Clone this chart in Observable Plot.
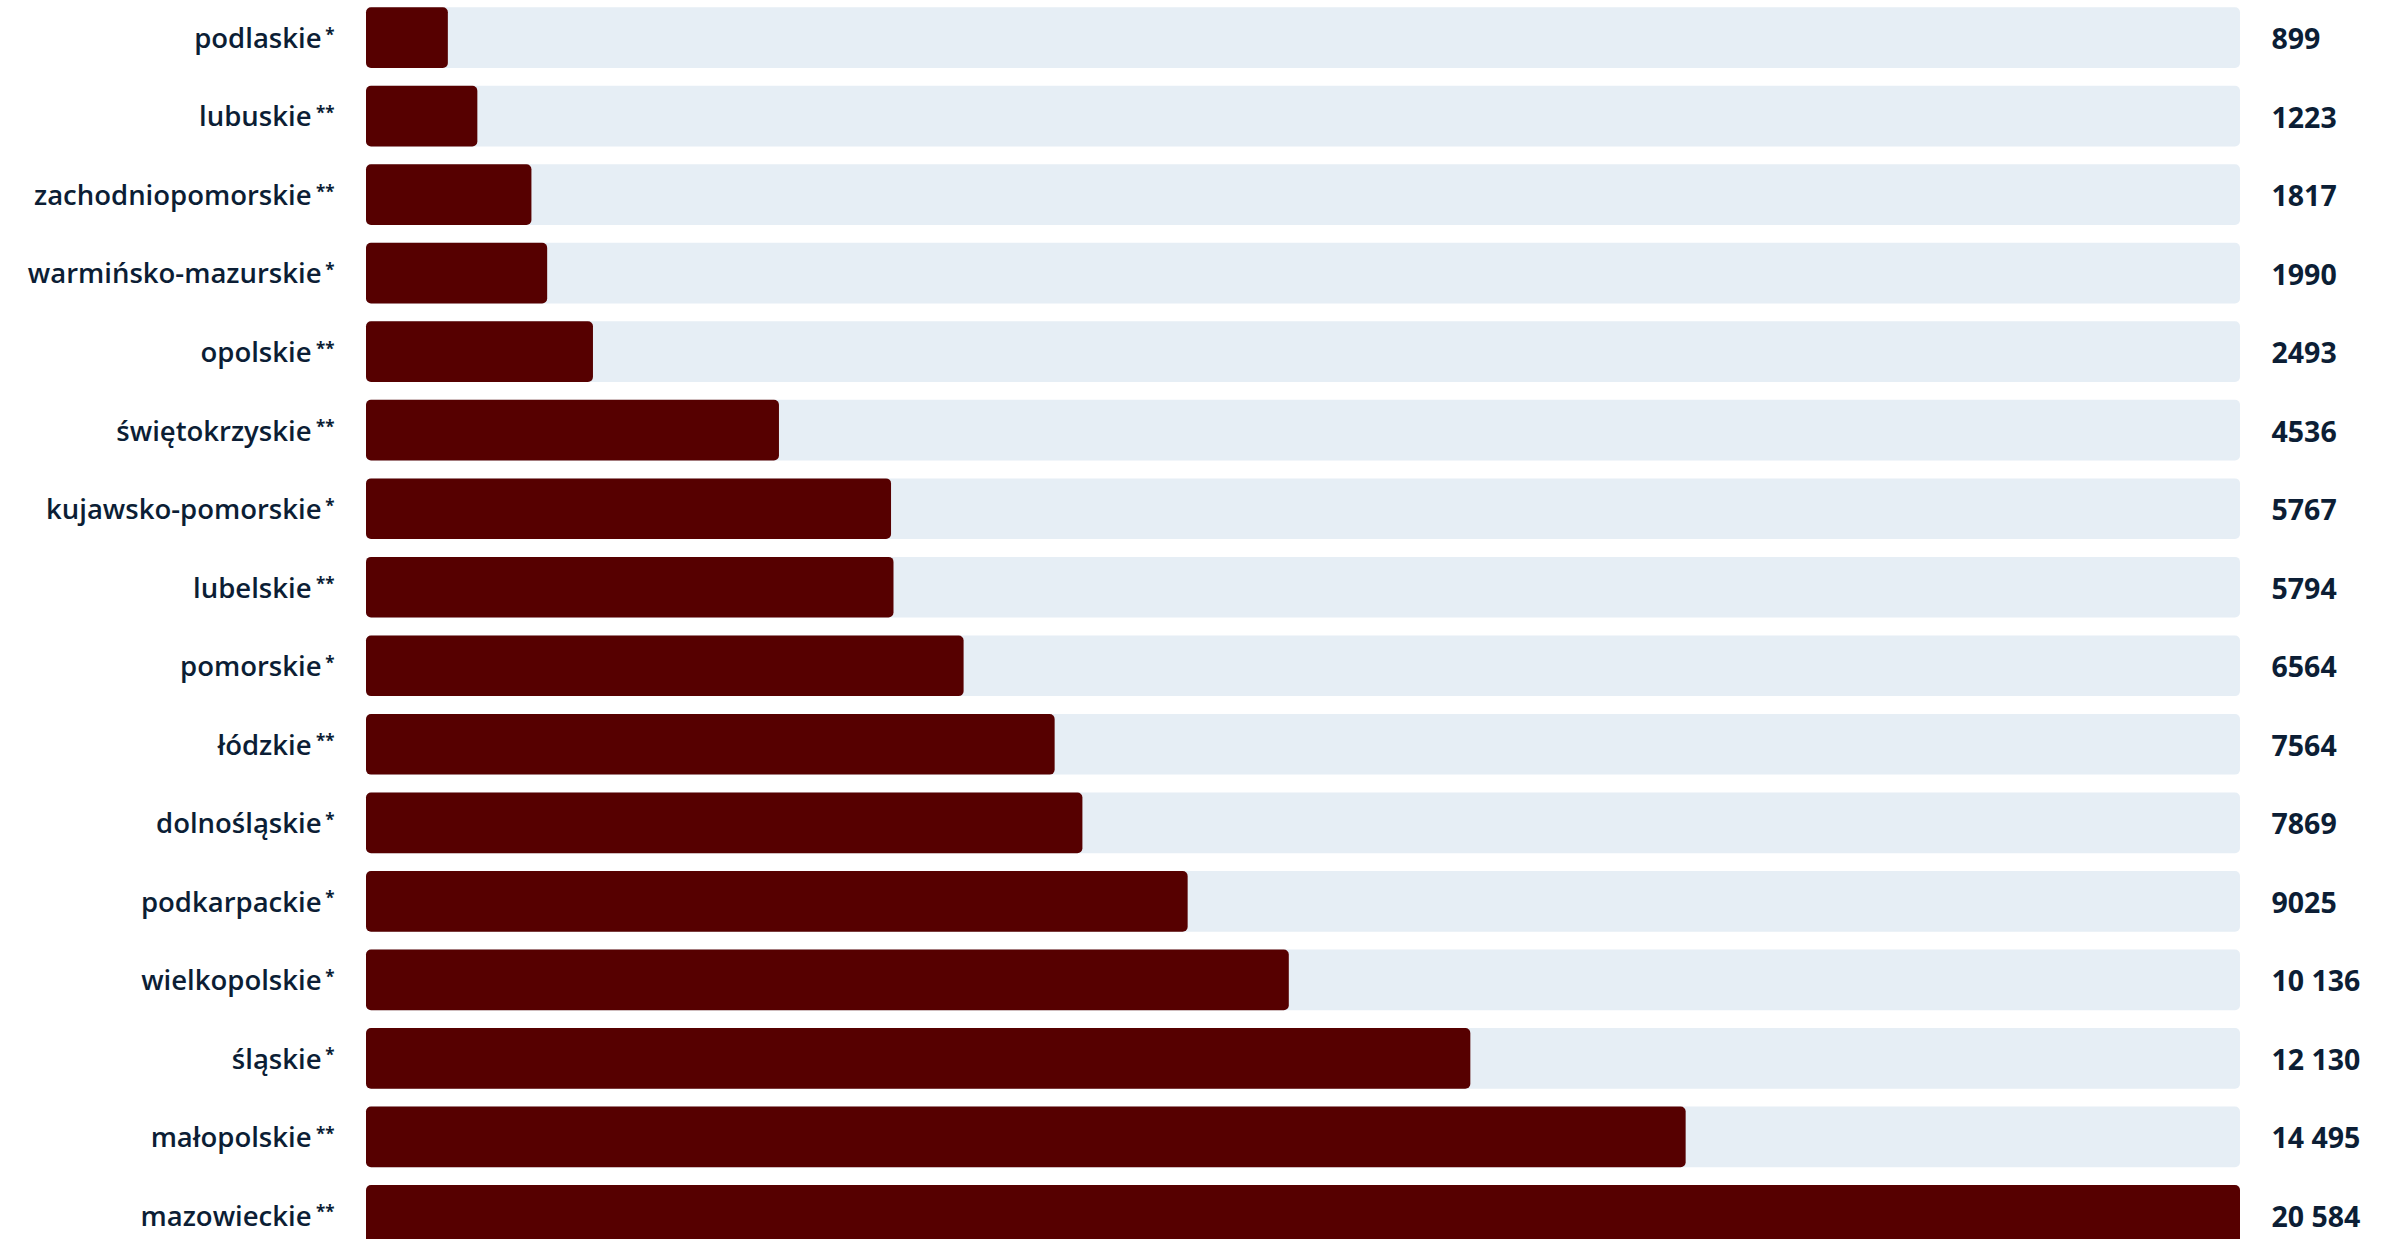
<!DOCTYPE html>
<html>
<head>
<meta charset="utf-8">
<script src="https://cdn.jsdelivr.net/npm/d3@7"></script>
<script src="https://cdn.jsdelivr.net/npm/@observablehq/plot@0.6"></script>
<style>
  html, body { margin: 0; padding: 0; background: #ffffff; }
  svg { display: block; }
</style>
</head>
<body>
<div id="chart"></div>
<script>
const regions = [
  "podlaskie", "lubuskie", "zachodniopomorskie", "warmińsko-mazurskie",
  "opolskie", "świętokrzyskie", "kujawsko-pomorskie", "lubelskie",
  "pomorskie", "łódzkie", "dolnośląskie", "podkarpackie",
  "wielkopolskie", "śląskie", "małopolskie", "mazowieckie"
];
const marks = ["*", "**", "**", "*", "**", "**", "*", "**", "*", "**", "*", "*", "*", "*", "**", "**"];
const values = [899, 1223, 1817, 1990, 2493, 4536, 5767, 5794, 6564, 7564, 7869, 9025, 10136, 12130, 14495, 20584];

const data = regions.map((r, i) => ({region: r, mark: marks[i], value: values[i]}));
const maxValue = d3.max(values);
const fmt = v => v >= 10000 ? d3.format(",")(v).replace(/,/g, " ") : String(v);

const labelStyle = {fontSize: 27.5, fontWeight: 600, fill: "#0c1e35", textAnchor: "end", dy: 1};

const chart = Plot.plot({
  width: 2391,
  height: 1239,
  marginTop: 7,
  marginBottom: 0,
  marginLeft: 366,
  marginRight: 151,
  style: {fontFamily: "'Open Sans', sans-serif", background: "#ffffff"},
  x: {domain: [0, maxValue], axis: null},
  y: {domain: regions, range: [7.3, 1245.7], paddingInner: 0.227, paddingOuter: 0, round: false, axis: null},
  marks: [
    Plot.barX(data, {y: "region", x1: 0, x2: maxValue, fill: "#e6eef5", rx: 5}),
    Plot.barX(data, {y: "region", x1: 0, x2: "value", fill: "#560000", rx: 5}),
    Plot.text(data.filter(d => d.mark === "*"), {y: "region", x: 0, text: "region", dx: -45, ...labelStyle}),
    Plot.text(data.filter(d => d.mark === "**"), {y: "region", x: 0, text: "region", dx: -55, ...labelStyle}),
    Plot.text(data, {
      y: "region", x: 0, text: "mark", textAnchor: "end", dx: -32, dy: -3,
      fontSize: 17, fontWeight: 700, fill: "#0c1e35"
    }),
    Plot.text(data, {
      y: "region", x: maxValue, text: d => fmt(d.value), textAnchor: "start", dx: 31, dy: 2,
      fontSize: 28.5, fontWeight: 700, fill: "#0c1e35"
    })
  ]
});
document.getElementById("chart").appendChild(chart);
</script>
</body>
</html>
